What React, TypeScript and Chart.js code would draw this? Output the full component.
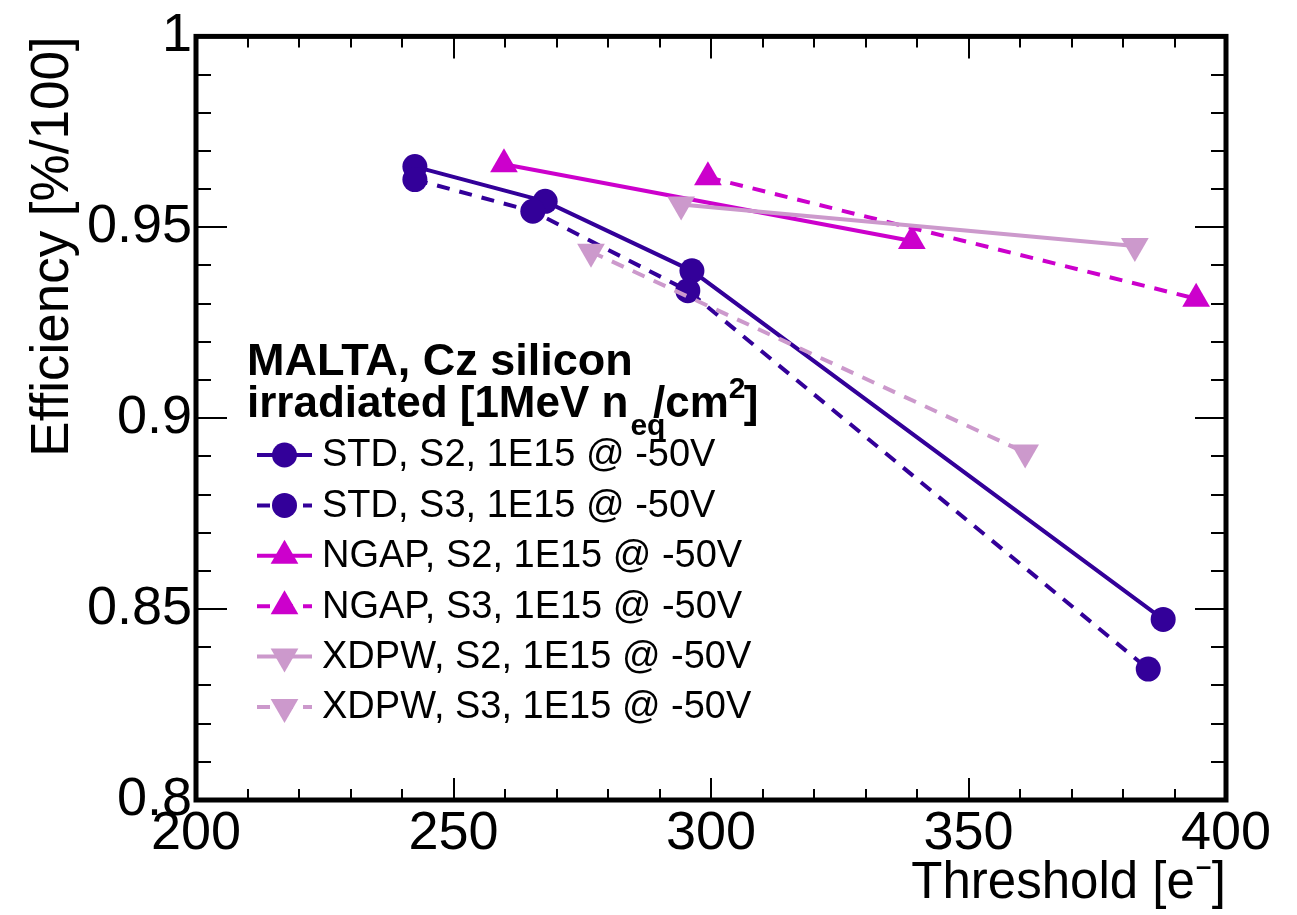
import React, { useEffect, useRef } from "react";
import { Chart, registerables } from "chart.js";

Chart.register(...registerables);

// ---- data ----
const stdS2X = [242.5, 267.8, 296.3, 387.8];
const stdS2Y = [0.9659, 0.9568, 0.9386, 0.8473];
const stdS3X = [242.5, 265.4, 295.5, 384.9];
const stdS3Y = [0.9625, 0.9542, 0.9334, 0.8343];
const ngapS2X = [259.8, 339.0];
const ngapS2Y = [0.9665, 0.9464];
const ngapS3X = [299.4, 394.2];
const ngapS3Y = [0.9631, 0.9313];
const xdpwS2X = [294.2, 382.3];
const xdpwS2Y = [0.956, 0.9451];
const xdpwS3X = [276.7, 361.0];
const xdpwS3Y = [0.9436, 0.891];

const seriesLabels = [
  "STD, S2, 1E15 @ -50V",
  "STD, S3, 1E15 @ -50V",
  "NGAP, S2, 1E15 @ -50V",
  "NGAP, S3, 1E15 @ -50V",
  "XDPW, S2, 1E15 @ -50V",
  "XDPW, S3, 1E15 @ -50V",
];
const legendHeader1 = "MALTA, Cz silicon";
const legendHeader2 = ["irradiated [1MeV n", "eq", "/cm", "2", "]"];
const xTitle = "Threshold [e\u207B]";
const yTitle = "Efficiency [%/100]";

const X_MIN = 200, X_MAX = 400, X_MAJOR = 50, X_MINOR = 10;
const Y_MIN = 0.8, Y_MAX = 1.0, Y_MAJOR = 0.05, Y_MINOR = 0.01;

const C_STD = "#330099";
const C_NGAP = "#cc00cc";
const C_XDPW = "#cc99cc";

const NARROW = '"Liberation Sans Narrow", "Liberation Sans", Arial, sans-serif';
const SANS = '"Liberation Sans", Arial, Helvetica, sans-serif';

const pts = (xs: number[], ys: number[]) => xs.map((x, i) => ({ x, y: ys[i] }));

const DASH = [13, 10];

function drawMarker(ctx: CanvasRenderingContext2D, style: string, rot: number, r: number, x: number, y: number, color: string) {
  ctx.save();
  ctx.fillStyle = color;
  ctx.beginPath();
  if (style === "circle") {
    ctx.arc(x, y, r, 0, Math.PI * 2);
  } else {
    let rad = (rot * Math.PI) / 180;
    ctx.moveTo(x + Math.sin(rad) * r, y - Math.cos(rad) * r);
    rad += (2 * Math.PI) / 3;
    ctx.lineTo(x + Math.sin(rad) * r, y - Math.cos(rad) * r);
    rad += (2 * Math.PI) / 3;
    ctx.lineTo(x + Math.sin(rad) * r, y - Math.cos(rad) * r);
    ctx.closePath();
  }
  ctx.fill();
  ctx.restore();
}

const framePlugin = {
  id: "rootFrame",
  afterDraw(chart: any) {
    const ctx: CanvasRenderingContext2D = chart.ctx;
    const { left, right, top, bottom } = chart.chartArea;
    const xs = chart.scales.x;
    const ys = chart.scales.y;
    ctx.save();
    // ticks
    ctx.strokeStyle = "#000";
    ctx.lineWidth = 2;
    ctx.beginPath();
    for (let v = X_MIN; v <= X_MAX + 1e-9; v += X_MINOR) {
      const px = Math.round(xs.getPixelForValue(v));
      const major = Math.abs(v / X_MAJOR - Math.round(v / X_MAJOR)) < 1e-6;
      const len = major ? 22 : 11;
      ctx.moveTo(px, bottom);
      ctx.lineTo(px, bottom - len);
      ctx.moveTo(px, top);
      ctx.lineTo(px, top + len);
    }
    for (let i = 0; i <= Math.round((Y_MAX - Y_MIN) / Y_MINOR); i++) {
      const v = Y_MIN + i * Y_MINOR;
      const py = Math.round(ys.getPixelForValue(v));
      const major = i % Math.round(Y_MAJOR / Y_MINOR) === 0;
      const len = major ? 31 : 15;
      ctx.moveTo(left, py);
      ctx.lineTo(left + len, py);
      ctx.moveTo(right, py);
      ctx.lineTo(right - len, py);
    }
    ctx.stroke();
    // frame
    ctx.lineWidth = 5;
    ctx.strokeRect(left, top, right - left, bottom - top);

    // legend
    const lx = 247;
    ctx.fillStyle = "#000";
    ctx.textAlign = "left";
    ctx.textBaseline = "alphabetic";
    ctx.font = `bold 45px ${SANS}`;
    ctx.fillText(legendHeader1, lx, 375);
    ctx.font = `bold 44px ${SANS}`;
    let cx = lx;
    const base2 = 417;
    ctx.fillText(legendHeader2[0], cx, base2);
    cx += ctx.measureText(legendHeader2[0]).width;
    ctx.font = `bold 30px ${SANS}`;
    ctx.fillText(legendHeader2[1], cx + 2, base2 + 18);
    const subW = ctx.measureText(legendHeader2[1]).width;
    ctx.font = `bold 44px ${SANS}`;
    cx += subW * 0.7;
    ctx.fillText(legendHeader2[2], cx, base2);
    cx += ctx.measureText(legendHeader2[2]).width;
    ctx.font = `bold 30px ${SANS}`;
    ctx.fillText(legendHeader2[3], cx, base2 - 19);
    cx += ctx.measureText(legendHeader2[3]).width * 0.9;
    ctx.font = `bold 44px ${SANS}`;
    ctx.fillText(legendHeader2[4], cx, base2);

    ctx.font = `38px ${SANS}`;
    ctx.textBaseline = "middle";
    chart.data.datasets.forEach((ds: any, i: number) => {
      const y = 455 + i * 50.4;
      ctx.save();
      ctx.strokeStyle = ds.borderColor;
      ctx.lineWidth = ds.borderWidth;
      ctx.setLineDash(ds.borderDash || []);
      ctx.beginPath();
      ctx.moveTo(257, y);
      ctx.lineTo(312, y);
      ctx.stroke();
      ctx.restore();
      drawMarker(ctx, ds.pointStyle, ds.rotation || 0, ds.pointRadius, 284.5, y, ds.backgroundColor);
      ctx.fillStyle = "#000";
      ctx.fillText(ds.label, 322, y + 1);
    });
    ctx.restore();
  },
};

export default function App() {
  const ref = useRef<HTMLCanvasElement>(null);
  useEffect(() => {
    if (!ref.current) return;
    const mk = (label: string, xs: number[], ys: number[], color: string, dashed: boolean, style: string, rot: number, r: number, order: number) => ({
      label,
      data: pts(xs, ys),
      showLine: true,
      borderColor: color,
      backgroundColor: color,
      borderWidth: 4,
      borderDash: dashed ? DASH : [],
      pointStyle: style,
      rotation: rot,
      pointRadius: r,
      pointHoverRadius: r,
      pointBorderWidth: 0,
      pointBackgroundColor: color,
      pointBorderColor: color,
      order,
    });
    const chart = new Chart(ref.current, {
      type: "scatter",
      data: {
        datasets: [
          mk(seriesLabels[0], stdS2X, stdS2Y, C_STD, false, "circle", 0, 12.5, 6),
          mk(seriesLabels[1], stdS3X, stdS3Y, C_STD, true, "circle", 0, 12.5, 5),
          mk(seriesLabels[2], ngapS2X, ngapS2Y, C_NGAP, false, "triangle", 0, 16, 4),
          mk(seriesLabels[3], ngapS3X, ngapS3Y, C_NGAP, true, "triangle", 0, 16, 3),
          mk(seriesLabels[4], xdpwS2X, xdpwS2Y, C_XDPW, false, "triangle", 180, 16, 2),
          mk(seriesLabels[5], xdpwS3X, xdpwS3Y, C_XDPW, true, "triangle", 180, 16, 1),
        ] as any,
      },
      options: {
        responsive: false,
        animation: false,
        events: [],
        layout: { padding: { top: 31, right: 71, bottom: 0, left: 0 } },
        plugins: { legend: { display: false }, tooltip: { enabled: false }, title: { display: false } },
        scales: {
          x: {
            type: "linear",
            min: X_MIN,
            max: X_MAX,
            grid: { display: false, drawTicks: false },
            border: { display: false },
            ticks: { stepSize: X_MAJOR, color: "#000", font: { family: NARROW, size: 54 }, padding: 2, maxRotation: 0, autoSkip: false },
            title: { display: true, text: xTitle, align: "end", color: "#000", font: { family: NARROW, size: 51 }, padding: { top: 0, bottom: 0 } },
            afterFit: (s: any) => { s.height = 115; },
          },
          y: {
            type: "linear",
            min: Y_MIN,
            max: Y_MAX,
            grid: { display: false, drawTicks: false },
            border: { display: false },
            ticks: {
              stepSize: Y_MAJOR,
              color: "#000",
              font: { family: NARROW, size: 54 },
              padding: 4,
              autoSkip: false,
              callback: (v: any) => String(Number(Number(v).toFixed(3))),
            },
            title: { display: true, text: yTitle, align: "end", color: "#000", font: { family: NARROW, size: 53 }, padding: { top: 22, bottom: 0 } },
            afterFit: (s: any) => { s.width = 196; },
          },
        },
      } as any,
      plugins: [framePlugin],
    });
    return () => chart.destroy();
  }, []);
  return (
    <div style={{ position: "fixed", left: 0, top: 0, width: 1297, height: 915, background: "#fff" }}>
      <canvas ref={ref} width={1297} height={915} style={{ width: 1297, height: 915, display: "block" }} />
    </div>
  );
}
